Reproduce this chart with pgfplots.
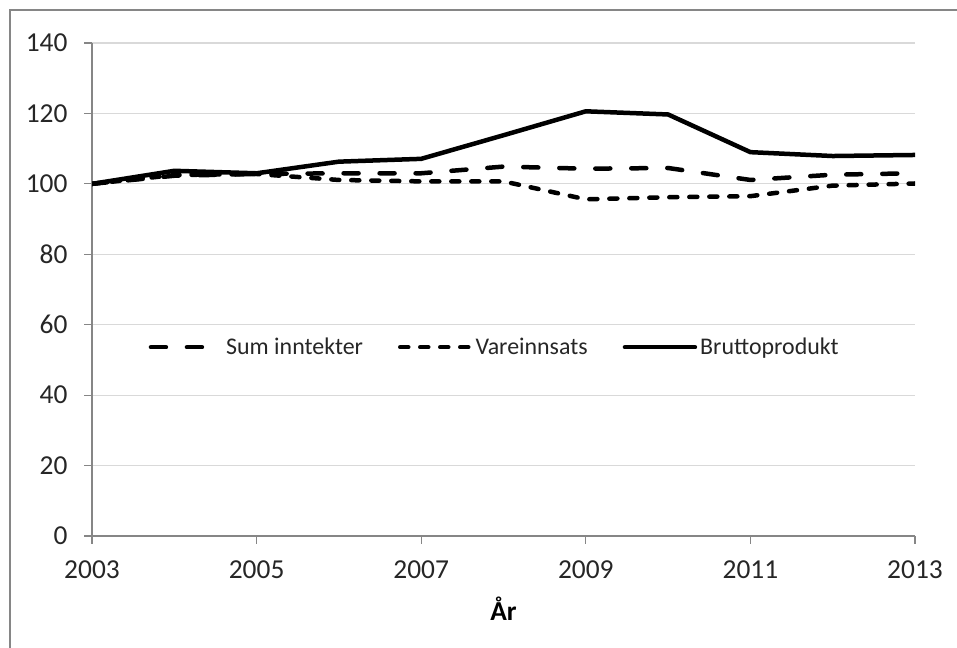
\documentclass[border=0pt]{standalone}
\usepackage{fontspec}
\setmainfont{Carlito}
\usepackage{pgfplots}
\pgfplotsset{compat=1.18}
\definecolor{axisgray}{HTML}{868686}
\definecolor{gridgray}{HTML}{D9D9D9}
\begin{document}
\begin{tikzpicture}[x=1bp,y=1bp]
\path[use as bounding box] (0,0) rectangle (957,648);
\draw[axisgray, line width=1.5bp] (10,0) -- (10,638) -- (957,638);
\begin{axis}[
  at={(92bp,112bp)}, anchor=south west,
  scale only axis, width=823bp, height=493bp,
  xmin=2003, xmax=2013, ymin=0, ymax=140,
  xtick={2003,2005,...,2013}, ytick={0,20,...,140},
  axis x line=bottom, axis y line=left,
  axis line style={axisgray, line width=1.2bp, -},
  x axis line style={-}, y axis line style={-},
  tick style={axisgray, line width=1.2bp},
  tick align=outside, major tick length=8bp,
  ymajorgrids, grid style={gridgray, line width=1.2bp},
  font=\fontsize{27.5}{32}\selectfont,
  tick label style={font=\fontsize{27.5}{32}\selectfont, text=black!85},
  /pgf/number format/assume math mode=true,
  /pgf/number format/1000 sep={},
  xticklabel style={yshift=-13bp},
  yticklabel style={xshift=-13bp},
  xlabel={\textbf{År}},
  xlabel style={yshift=-12bp},
  legend cell align=left,
  legend style={draw=none, fill=none, at={(0.065,0.383)}, anchor=west,
    legend columns=3, nodes={inner sep=0pt, font=\fontsize{24}{29}\selectfont, text=black!85},
    /tikz/every odd column/.append style={column sep=3bp},
    /tikz/every even column/.append style={column sep=35bp}},
  legend image code/.code={\draw[#1] (0bp,0bp) -- (70bp,0bp);},
]
\addplot[black, mark=none, line width=4.5bp, line join=round, line cap=round, dash pattern=on 15bp off 21bp] coordinates {
(2003,100) (2004,102.3) (2005,102.8) (2006,103.0) (2007,103.0) (2008,104.9)
(2009,104.3) (2010,104.5) (2011,101.1) (2012,102.6) (2013,103.0)};
\addlegendentry{Sum inntekter}
\addplot[black, mark=none, line width=4.5bp, line join=round, line cap=round, dash pattern=on 8bp off 12bp] coordinates {
(2003,100) (2004,102.5) (2005,102.8) (2006,101.1) (2007,100.7) (2008,100.7)
(2009,95.6) (2010,96.2) (2011,96.5) (2012,99.5) (2013,100.1)};
\addlegendentry{Vareinnsats}
\addplot[black, mark=none, line width=4.5bp, line join=round, line cap=round] coordinates {
(2003,100) (2004,103.7) (2005,103.0) (2006,106.3) (2007,107.1) (2008,113.8)
(2009,120.6) (2010,119.7) (2011,109.0) (2012,107.9) (2013,108.2)};
\addlegendentry{Bruttoprodukt}
\end{axis}
\end{tikzpicture}
\end{document}
